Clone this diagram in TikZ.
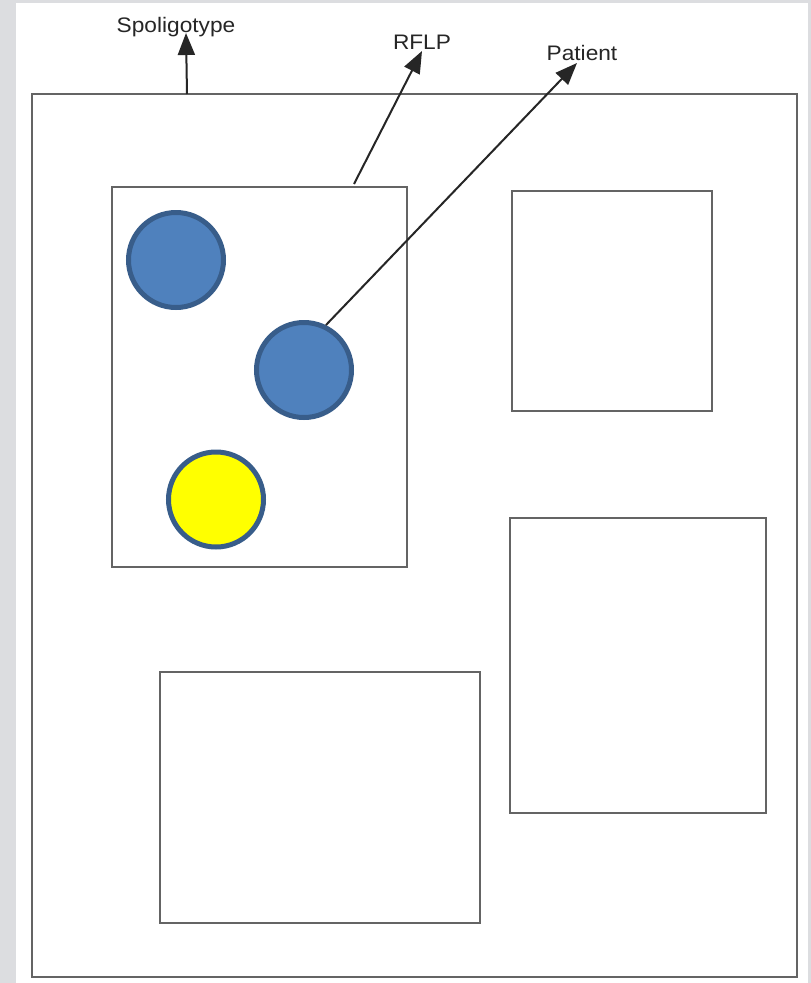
\documentclass[tikz,border=0pt]{standalone}
\usepackage{fontspec}
\setmainfont{Liberation Sans}
\usetikzlibrary{arrows.meta}
\definecolor{frame}{HTML}{DCDDE0}
\definecolor{boxline}{HTML}{646464}
\definecolor{bluefill}{HTML}{4F81BD}
\definecolor{blueline}{HTML}{385D8A}
\definecolor{yel}{HTML}{FFFF00}
\tikzset{
  box/.style={draw=boxline, line width=2.9pt, fill=none},
  blob/.style={circle, draw=blueline, line width=5pt, minimum size=95pt, inner sep=0pt},
  label/.style={font=\fontsize{21}{23}\selectfont, text=black!85, inner sep=0pt, xscale=1.08},
  conn/.style={draw=black!85, line width=2pt, -{Triangle[length=22pt,width=17pt]}}
}
\begin{document}
\begin{tikzpicture}[x=1pt,y=-1pt]
\useasboundingbox (0,0) rectangle (811,983);
\fill[frame] (0,0) rectangle (811,983);
\fill[white] (16,3) rectangle (808,983);
% outer frame
\draw[box] (32,94) rectangle (797,977);
\coordinate (topS) at (187,94);
% inner boxes
\draw[box] (112,187) rectangle (407,567);
\draw[box] (512,191) rectangle (712,411);
\draw[box] (510,518) rectangle (766,813);
\draw[box] (160,672) rectangle (480,923);
\coordinate (boxTop) at (354,184);
% circles
\node[blob, fill=bluefill] (c1) at (176,260) {};
\node[blob, fill=bluefill] (c2) at (304,370) {};
\node[blob, fill=yel] (c3) at (216,499.5) {};
% labels
\node[label, anchor=base] (spol) at (176,32) {Spoligotype};
\node[label, anchor=base] (rflp) at (422,49) {RFLP};
\node[label, anchor=base] (pat) at (582,60) {Patient};
\coordinate (tipS) at (186,33);
\coordinate (tipR) at (422,51);
\coordinate (tipP) at (577,63);
% connectors
\draw[conn] (topS) -- (tipS);
\draw[conn] (boxTop) -- (tipR);
\draw[conn] (c2.64) -- (tipP);
\end{tikzpicture}
\end{document}
